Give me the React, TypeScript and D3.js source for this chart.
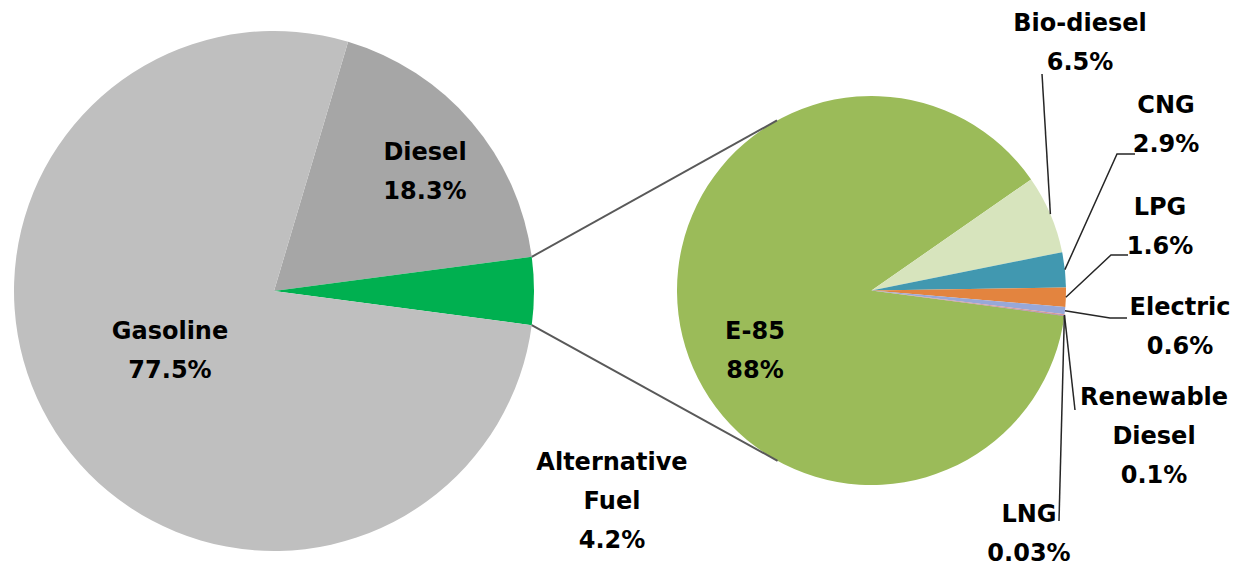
import React from 'react';
import * as d3 from 'd3';

// ---- data ----
const mainCategories = ['Diesel', 'Alternative Fuel', 'Gasoline'];
const mainValues = [18.3, 4.2, 77.5];
const mainPctLabels = ['18.3%', '4.2%', '77.5%'];

const altCategories = ['E-85', 'Bio-diesel', 'CNG', 'LPG', 'Electric', 'Renewable Diesel', 'LNG'];
const altValues = [88, 6.5, 2.9, 1.6, 0.6, 0.1, 0.03];
const altPctLabels = ['88%', '6.5%', '2.9%', '1.6%', '0.6%', '0.1%', '0.03%'];

// ---- styles / layout ----
const W = 1233;
const H = 566;
const mainColors: Record<string, string> = {
  Diesel: '#A6A6A6',
  'Alternative Fuel': '#00B050',
  Gasoline: '#BFBFBF',
};
const altColors: Record<string, string> = {
  'E-85': '#9BBB59',
  'Bio-diesel': '#D7E4BD',
  CNG: '#4198B0',
  LPG: '#E3843F',
  Electric: '#98A8D8',
  'Renewable Diesel': '#D99694',
  LNG: '#8064A2',
};

const mainC = { x: 274, y: 291, r: 260 };
const altC = { x: 871.5, y: 290.5, r: 194.5 };
const altStartDeg = 97.5 - 360;

// label layout: name lines split, center x, first-line center y
const labelLayout: Record<string, { lines: string[]; x: number; y: number }> = {
  Diesel: { lines: ['Diesel'], x: 425, y: 152 },
  Gasoline: { lines: ['Gasoline'], x: 170, y: 331 },
  'Alternative Fuel': { lines: ['Alternative', 'Fuel'], x: 612, y: 462 },
  'E-85': { lines: ['E-85'], x: 755, y: 331 },
  'Bio-diesel': { lines: ['Bio-diesel'], x: 1080, y: 23 },
  CNG: { lines: ['CNG'], x: 1166, y: 105 },
  LPG: { lines: ['LPG'], x: 1160, y: 207 },
  Electric: { lines: ['Electric'], x: 1180, y: 307 },
  'Renewable Diesel': { lines: ['Renewable', 'Diesel'], x: 1154, y: 397 },
  LNG: { lines: ['LNG'], x: 1029, y: 514 },
};
const lineStep = 39;

// leader line extra points (after the slice arc point)
const leaderLayout: Record<string, [number, number][]> = {
  'Bio-diesel': [[1042, 74]],
  CNG: [[1117, 154], [1135, 154]],
  LPG: [[1111, 255], [1128, 255]],
  Electric: [[1110, 318], [1127, 318]],
  'Renewable Diesel': [[1075, 410]],
  LNG: [[1059, 521]],
};

const FONT = "'DejaVu Sans', Verdana, sans-serif";

export default function App() {
  const rad = (d: number) => (d * Math.PI) / 180;

  const mainTotal = d3.sum(mainValues);
  const dieselFrac = mainValues[0] / mainTotal;
  const altFrac = mainValues[1] / mainTotal;
  const mainStart = Math.PI / 2 - altFrac * Math.PI - dieselFrac * 2 * Math.PI;

  const mainPie = d3
    .pie<number>()
    .sort(null)
    .value((d) => d)
    .startAngle(mainStart)
    .endAngle(mainStart + 2 * Math.PI);
  const mainArcs = mainPie(mainValues);
  const mainArc = d3.arc<d3.PieArcDatum<number>>().innerRadius(0).outerRadius(mainC.r);

  const altPie = d3
    .pie<number>()
    .sort(null)
    .value((d) => d)
    .startAngle(rad(altStartDeg))
    .endAngle(rad(altStartDeg) + 2 * Math.PI);
  const altArcs = altPie(altValues);
  const altArc = d3.arc<d3.PieArcDatum<number>>().innerRadius(0).outerRadius(altC.r);

  // connector lines between pies
  const altSlice = mainArcs[1];
  const polar = (cx: number, cy: number, r: number, a: number): [number, number] => [
    cx + r * Math.sin(a),
    cy - r * Math.cos(a),
  ];
  const pTop = polar(mainC.x, mainC.y, mainC.r, altSlice.startAngle);
  const pBot = polar(mainC.x, mainC.y, mainC.r, altSlice.endAngle);
  const tangent = (p: [number, number], upper: boolean): [number, number] => {
    const dx = p[0] - altC.x;
    const dy = p[1] - altC.y;
    const d = Math.hypot(dx, dy);
    const base = Math.atan2(dy, dx);
    const off = Math.acos(altC.r / d);
    const a1 = base + off;
    const a2 = base - off;
    const t1: [number, number] = [altC.x + altC.r * Math.cos(a1), altC.y + altC.r * Math.sin(a1)];
    const t2: [number, number] = [altC.x + altC.r * Math.cos(a2), altC.y + altC.r * Math.sin(a2)];
    if (upper) return t1[1] < t2[1] ? t1 : t2;
    return t1[1] > t2[1] ? t1 : t2;
  };
  const tTop = tangent(pTop, true);
  const tBot = tangent(pBot, false);

  const lineGen = d3.line();

  const renderLabel = (name: string, pct: string) => {
    const l = labelLayout[name];
    const lines = [...l.lines, pct];
    return (
      <text
        key={'lbl-' + name}
        x={l.x}
        y={l.y}
        textAnchor="middle"
        fontFamily={FONT}
        fontWeight="bold"
        fontSize={24}
        fill="#000"
      >
        {lines.map((t, i) => (
          <tspan key={i} x={l.x} y={l.y + i * lineStep} dominantBaseline="central">
            {t}
          </tspan>
        ))}
      </text>
    );
  };

  return (
    <svg
      width={W}
      height={H}
      style={{ position: 'absolute', left: 0, top: 0, display: 'block', background: '#fff' }}
    >
      <rect width={W} height={H} fill="#fff" />
      <g transform={`translate(${mainC.x},${mainC.y})`}>
        {mainArcs.map((a, i) => (
          <path key={i} d={mainArc(a) || ''} fill={mainColors[mainCategories[i]]} />
        ))}
      </g>
      <g transform={`translate(${altC.x},${altC.y})`}>
        {altArcs.map((a, i) => (
          <path key={i} d={altArc(a) || ''} fill={altColors[altCategories[i]]} />
        ))}
      </g>
      <path d={lineGen([pTop, tTop]) || ''} stroke="#595959" strokeWidth={2} fill="none" />
      <path d={lineGen([pBot, tBot]) || ''} stroke="#595959" strokeWidth={2} fill="none" />
      {altArcs.map((a, i) => {
        const name = altCategories[i];
        const pts = leaderLayout[name];
        if (!pts) return null;
        const mid = (a.startAngle + a.endAngle) / 2;
        const p0 = polar(altC.x, altC.y, altC.r, mid);
        return (
          <path
            key={'ld-' + name}
            d={lineGen([p0, ...pts]) || ''}
            stroke="#262626"
            strokeWidth={1.5}
            fill="none"
          />
        );
      })}
      {mainCategories.map((c, i) => renderLabel(c, mainPctLabels[i]))}
      {altCategories.map((c, i) => renderLabel(c, altPctLabels[i]))}
    </svg>
  );
}
